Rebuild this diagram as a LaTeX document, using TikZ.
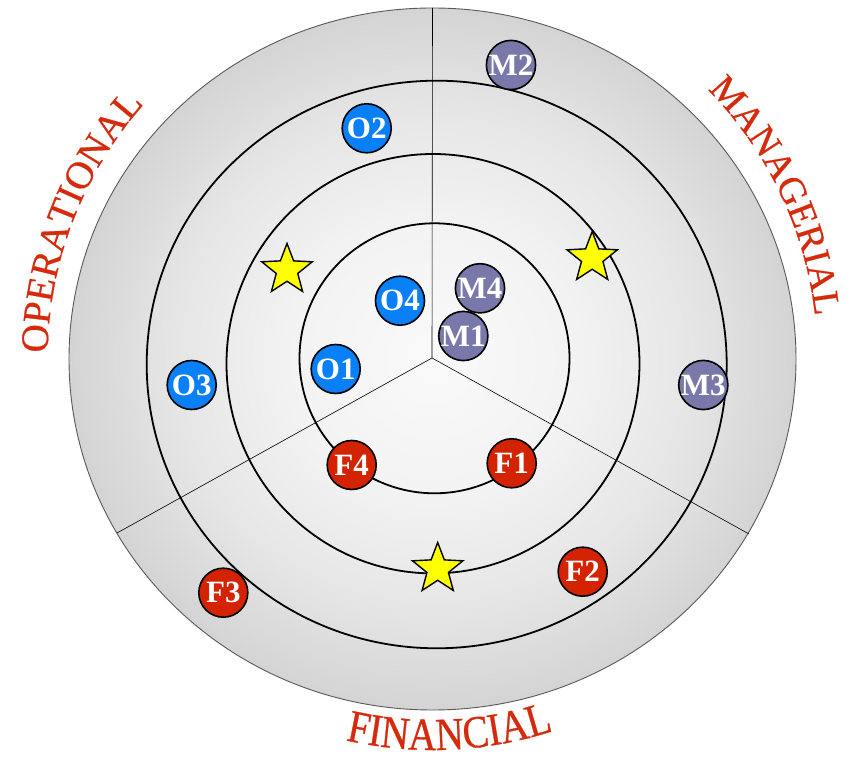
\documentclass[tikz,border=0pt]{standalone}
\usepackage{fontspec}
\setmainfont{Liberation Serif}
\newfontfamily\labfont[FakeBold=0.6]{Liberation Serif}
\newfontfamily\finfont[FakeStretch=0.85,FakeBold=0.6]{Liberation Serif}
\usetikzlibrary{shapes.geometric,decorations.text}
\definecolor{labred}{HTML}{D62A0C}
\definecolor{fred}{HTML}{D42300}
\definecolor{mslate}{HTML}{7878AA}
\definecolor{oblue}{HTML}{0A80F8}
\definecolor{starfill}{HTML}{FFFF00}
\pgfdeclareradialshading{discshade}{\pgfpoint{0bp}{0bp}}{color(0bp)=(white!98!black); color(10bp)=(white!95!black); color(18bp)=(white!90!black); color(25bp)=(white!83!black); color(50bp)=(white!83!black)}
\tikzset{
  bubble/.style={circle, draw=black, line width=1.6pt, minimum size=49pt, inner sep=0pt, text=white, font=\bfseries\fontsize{31}{32}\selectfont},
  onode/.style={bubble, fill=oblue},
  mnode/.style={bubble, fill=mslate},
  fnode/.style={bubble, fill=fred},
  starnode/.style={star, star points=5, star point ratio=2.35, minimum size=53pt, inner sep=0pt, draw=black, line width=1.4pt, fill=starfill},
  ring/.style={draw=black, line width=1.8pt},
  spoke/.style={draw=black, line width=0.6pt},
  rim/.style={draw=black!65, line width=0.9pt}
}
\begin{document}
\begin{tikzpicture}[x=1pt,y=1pt]
\useasboundingbox (0,0) rectangle (852,760);
\coordinate (C) at (432.5,401);
% disc
\shade[shading=discshade] (C) ellipse [x radius=363.5, y radius=351];
\draw[rim] (C) ellipse [x radius=363.5, y radius=351];
% spokes
\coordinate (hub) at (432,402);
\coordinate (sTop) at (432.5,752);
\coordinate (sL) at (117,227);
\coordinate (sR) at (749,226);
\draw[spoke] (hub) -- (sTop);
\draw[spoke] (hub) -- (sL);
\draw[spoke] (hub) -- (sR);
% rings
\draw[ring] (434.5,401.7) circle [radius=135];
\draw[ring] (433,396.3) ellipse [x radius=206.5, y radius=209.7];
\draw[ring] (436.7,395.5) ellipse [x radius=290, y radius=283.8];
% stars
\node[starnode] (S1) at (287,490) {};
\node[starnode] (S2) at (592.2,502) {};
\node[starnode] (S3) at (437.7,191) {};
% nodes
\node[mnode] (M2) at (511,695) {M2};
\node[onode] (O2) at (366.7,631.7) {O2};
\node[mnode] (M4) at (480,471.7) {M4};
\node[mnode] (M1) at (463.3,424) {M1};
\node[onode] (O4) at (400,459.3) {O4};
\node[onode] (O1) at (335.7,391) {O1};
\node[onode] (O3) at (191.7,375) {O3};
\node[mnode] (M3) at (703.3,375) {M3};
\node[fnode] (F4) at (351.7,295) {F4};
\node[fnode] (F1) at (511.7,296.7) {F1};
\node[fnode] (F2) at (582.7,188.3) {F2};
\node[fnode] (F3) at (223.3,167.3) {F3};
% curved labels
\path[shift={(C)}, decorate, decoration={text along path, text align=center, text color=labred,
  text={|\labfont\fontsize{39}{42}\selectfont|OPERATIONAL}}]
  (183:385) arc [start angle=183, end angle=134.6, radius=385];
\path[shift={(C)}, decorate, decoration={text along path, text align=center, text color=labred,
  text={|\labfont\fontsize{38}{40}\selectfont|MANAGERIAL}}]
  (48:385) arc [start angle=48, end angle=2.8, radius=385];
\path[shift={(C)}, decorate, decoration={text along path, text align=center, text color=labred,
  text={|\finfont\fontsize{46}{48}\selectfont|FINANCIAL}}]
  (253.6:391) arc [start angle=253.6, end angle=291.6, radius=391];
\end{tikzpicture}
\end{document}
